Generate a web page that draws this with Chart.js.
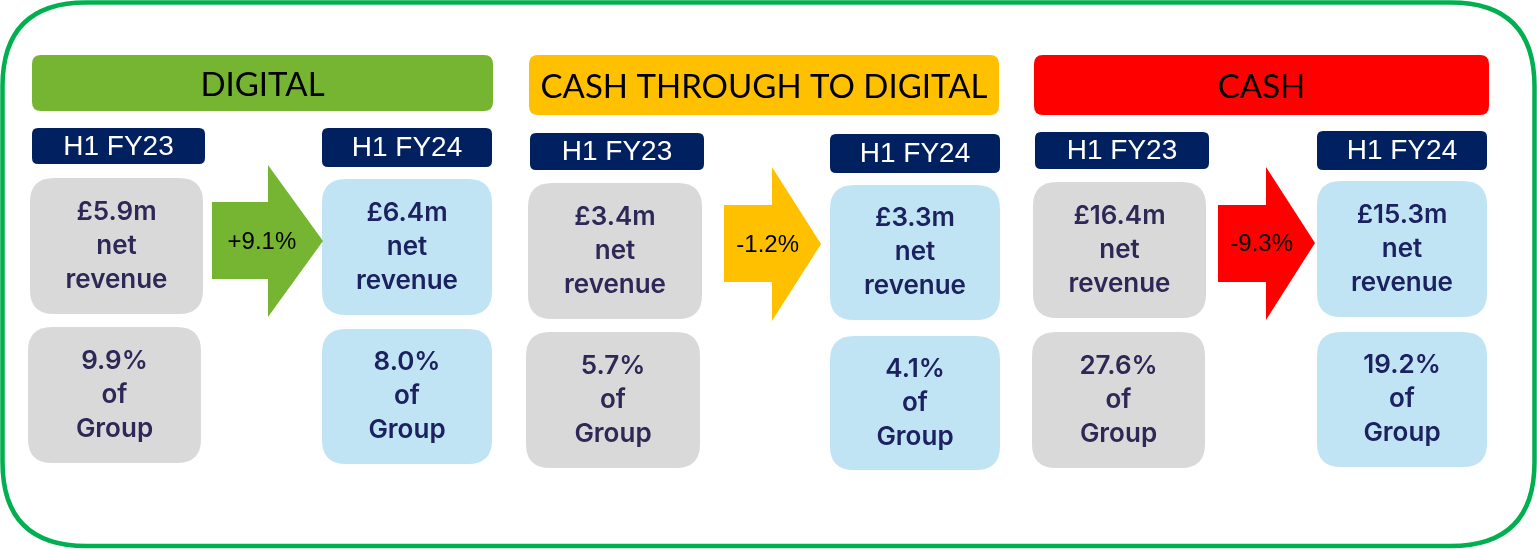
<!DOCTYPE html>
<html>
<head>
<meta charset="utf-8">
<script src="https://cdn.jsdelivr.net/npm/chart.js@4.4.1/dist/chart.umd.min.js"></script>
<style>
html, body { margin: 0; padding: 0; background: #fff; }
#wrap { width: 1537px; height: 549px; }
</style>
</head>
<body>
<div id="wrap"><canvas id="canvas"></canvas></div>
<script>
// data
var segments = ['DIGITAL', 'CASH THROUGH TO DIGITAL', 'CASH'];
var periods = ['H1 FY23', 'H1 FY24'];
var revenueFY23 = [5.9, 3.4, 16.4];   // £m net revenue
var revenueFY24 = [6.4, 3.3, 15.3];
var shareFY23 = [9.9, 5.7, 27.6];     // % of Group
var shareFY24 = [8.0, 4.1, 19.2];
var changes = [9.1, -1.2, -9.3];      // % change in net revenue

// layout (page units, mapped through the chart scales)
var segColors = ['#76B531', '#FFC000', '#FF0000'];
var headerBox = [[32, 493, 55, 111], [529, 999, 55, 115], [1034, 1489, 55, 115]];
var label23Box = [[32, 205, 128, 164], [530, 704, 133, 170], [1035, 1209, 132, 169]];
var label24Box = [[322, 492, 128, 167], [830, 1000, 134, 173], [1317, 1487, 131, 170]];
var rev23Box = [[30, 203, 178, 314], [528, 702, 183, 319], [1033, 1206, 182, 318]];
var share23Box = [[28, 201, 327, 463], [526, 700, 332, 468], [1032, 1205, 332, 468]];
var rev24Box = [[322, 492, 179, 315], [830, 1000, 185, 320], [1317, 1487, 181, 317]];
var share24Box = [[322, 492, 329, 464], [830, 1000, 336, 470], [1317, 1487, 332, 467]];
// [bodyLeft, headStart, tip, bodyTop, bodyBottom, headTop, headBottom, tipY]
var arrowShape = [[212, 268, 323, 202, 279, 165, 317, 241],
                  [724, 772, 821, 205, 282, 167, 321, 244],
                  [1218, 1266, 1315, 205, 282, 167, 320, 243]];

function roundRect(ctx, x0, y0, x1, y1, r) {
    ctx.beginPath();
    ctx.moveTo(x0 + r, y0);
    ctx.lineTo(x1 - r, y0);
    ctx.quadraticCurveTo(x1, y0, x1, y0 + r);
    ctx.lineTo(x1, y1 - r);
    ctx.quadraticCurveTo(x1, y1, x1 - r, y1);
    ctx.lineTo(x0 + r, y1);
    ctx.quadraticCurveTo(x0, y1, x0, y1 - r);
    ctx.lineTo(x0, y0 + r);
    ctx.quadraticCurveTo(x0, y0, x0 + r, y0);
    ctx.closePath();
}

var infographic = {
    id: 'infographic',
    afterDraw: function(chart) {
        var ctx = chart.ctx;
        var sx = chart.scales.x, sy = chart.scales.y;
        function px(v) { return sx.getPixelForValue(v); }
        function py(v) { return sy.getPixelForValue(v); }
        function box(b, color, r) {
            ctx.fillStyle = color;
            roundRect(ctx, px(b[0]), py(b[2]), px(b[1]), py(b[3]), r);
            ctx.fill();
        }
        function lines(b, txt, color) {
            var cx = (px(b[0]) + px(b[1])) / 2;
            var cy = (py(b[2]) + py(b[3])) / 2;
            ctx.fillStyle = color;
            ctx.font = '600 26px Inter, Lato, sans-serif';
            ctx.textAlign = 'center';
            ctx.textBaseline = 'middle';
            for (var k = 0; k < txt.length; k++) {
                ctx.fillText(txt[k], cx, cy + (k - 1) * 34);
            }
        }
        ctx.save();

        // outer frame
        ctx.strokeStyle = '#00B050';
        ctx.lineWidth = 4.5;
        roundRect(ctx, px(2.5), py(2.5), px(1534.5), py(546), 84);
        ctx.stroke();

        for (var i = 0; i < segments.length; i++) {
            // header
            box(headerBox[i], segColors[i], 9);
            ctx.fillStyle = '#000';
            ctx.font = '33px Lato, sans-serif';
            ctx.textAlign = 'center';
            ctx.textBaseline = 'middle';
            ctx.fillText(segments[i], (px(headerBox[i][0]) + px(headerBox[i][1])) / 2,
                         (py(headerBox[i][2]) + py(headerBox[i][3])) / 2 + 2);

            // period labels
            [label23Box[i], label24Box[i]].forEach(function(b, j) {
                box(b, '#002060', 6);
                ctx.fillStyle = '#fff';
                ctx.font = '28px "Liberation Sans", Arial, sans-serif';
                ctx.fillText(periods[j], (px(b[0]) + px(b[1])) / 2, (py(b[2]) + py(b[3])) / 2 + 1);
            });

            // value boxes
            box(rev23Box[i], '#D9D9D9', 24);
            box(share23Box[i], '#D9D9D9', 24);
            box(rev24Box[i], '#C0E4F4', 24);
            box(share24Box[i], '#C0E4F4', 24);
            lines(rev23Box[i], ['£' + revenueFY23[i].toFixed(1) + 'm', 'net', 'revenue'], '#2E2856');
            lines(share23Box[i], [shareFY23[i].toFixed(1) + '%', 'of', 'Group'], '#2E2856');
            lines(rev24Box[i], ['£' + revenueFY24[i].toFixed(1) + 'm', 'net', 'revenue'], '#1C2160');
            lines(share24Box[i], [shareFY24[i].toFixed(1) + '%', 'of', 'Group'], '#1C2160');

            // arrow
            var a = arrowShape[i];
            ctx.fillStyle = segColors[i];
            ctx.beginPath();
            ctx.moveTo(px(a[0]), py(a[3]));
            ctx.lineTo(px(a[1]), py(a[3]));
            ctx.lineTo(px(a[1]), py(a[5]));
            ctx.lineTo(px(a[2]), py(a[7]));
            ctx.lineTo(px(a[1]), py(a[6]));
            ctx.lineTo(px(a[1]), py(a[4]));
            ctx.lineTo(px(a[0]), py(a[4]));
            ctx.closePath();
            ctx.fill();
            ctx.fillStyle = '#000';
            ctx.font = '24px "Liberation Sans", Arial, sans-serif';
            var lbl = (changes[i] > 0 ? '+' : '') + changes[i].toFixed(1) + '%';
            ctx.fillText(lbl, px(a[0] + (a[2] - a[0]) * 0.45), py(a[7]) + 1);
        }
        ctx.restore();
    }
};

var ctx = document.getElementById('canvas');
var chart = new Chart(ctx, {
    type: 'scatter',
    data: { datasets: [{ data: [] }] },
    options: {
        responsive: true,
        maintainAspectRatio: false,
        animation: false,
        layout: { padding: 0 },
        plugins: { legend: { display: false }, tooltip: { enabled: false } },
        scales: {
            x: { type: 'linear', min: 0, max: 1537, display: false },
            y: { type: 'linear', min: 0, max: 549, reverse: true, display: false }
        }
    },
    plugins: [infographic]
});
</script>
</body>
</html>
